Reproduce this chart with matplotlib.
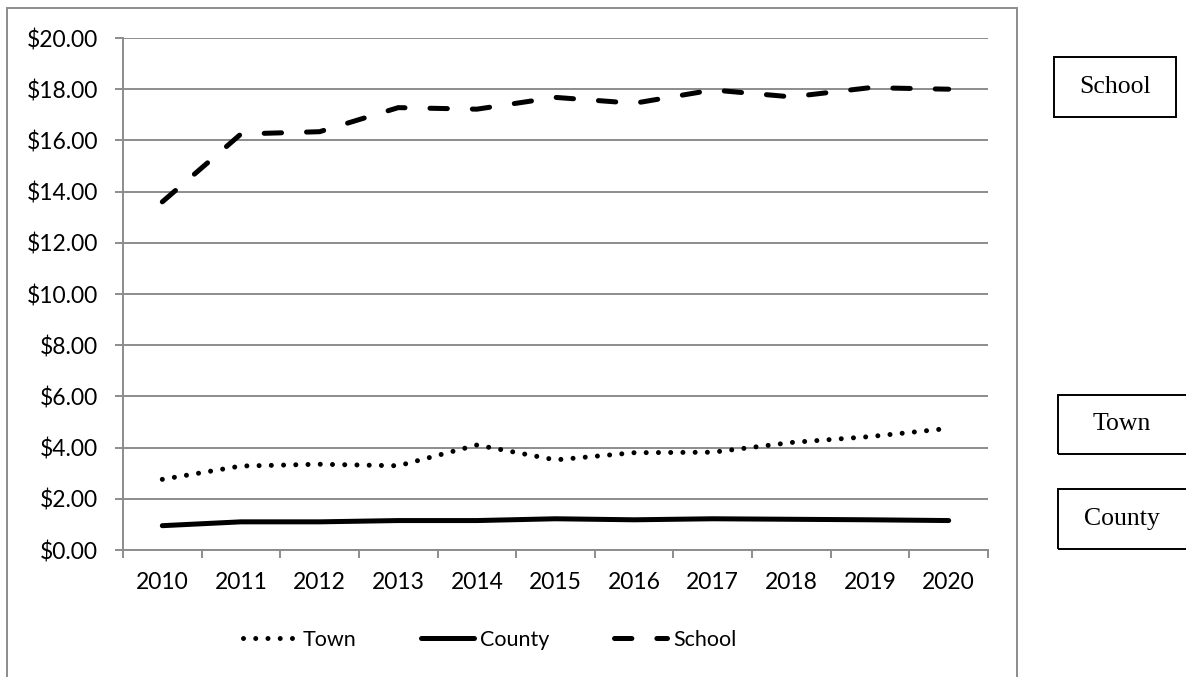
import matplotlib
matplotlib.use("Agg")
import matplotlib.pyplot as plt
from matplotlib.patches import Rectangle
from matplotlib.ticker import FixedLocator, FuncFormatter

years = ["2010", "2011", "2012", "2013", "2014", "2015", "2016", "2017", "2018", "2019", "2020"]
town = [2.76, 3.28, 3.35, 3.29, 4.10, 3.52, 3.80, 3.82, 4.20, 4.43, 4.75]
county = [0.95, 1.10, 1.10, 1.15, 1.15, 1.22, 1.18, 1.22, 1.20, 1.18, 1.15]
school = [13.60, 16.25, 16.34, 17.28, 17.22, 17.68, 17.45, 17.97, 17.70, 18.06, 18.00]
yticks = [0, 2, 4, 6, 8, 10, 12, 14, 16, 18, 20]
box_labels = ["School", "Town", "County"]

plt.rcParams['lines.scale_dashes'] = False
plt.rcParams['font.family'] = ['Lato', 'DejaVu Sans']

W, H = 1186, 677
fig = plt.figure(figsize=(W / 100, H / 100), dpi=100)

def fx(px):
    return px / W

def fy(py):
    return 1 - py / H

ax = fig.add_axes([fx(123), fy(550), fx(988) - fx(123), fy(38) - fy(550)])
x = list(range(len(years)))
grey = "#8c8c8c"
fs = 16.5

ax.plot(x, town, color="black", lw=3.6, linestyle=(0, (0.01, 8.8)),
        dash_capstyle="round", label="Town")
ax.plot(x, county, color="black", lw=3.6, solid_capstyle="round", label="County")
ax.plot(x, school, color="black", lw=3.6, linestyle=(0, (12.5, 18.0)),
        dash_capstyle="round", label="School")

ax.set_xlim(-0.5, len(years) - 0.5)
ax.set_ylim(0, 20)
ax.set_yticks(yticks)
ax.yaxis.set_major_formatter(FuncFormatter(lambda v, p: f"${v:.2f}"))
ax.grid(axis="y", color=grey, lw=1.4)
ax.set_axisbelow(True)
ax.set_xticks(x)
ax.set_xticklabels(years)
ax.xaxis.set_minor_locator(FixedLocator([i - 0.5 for i in range(len(years) + 1)]))
ax.tick_params(axis="x", which="major", length=0, pad=16, labelsize=fs, colors="black")
ax.tick_params(axis="x", which="minor", length=6, width=1.4, color=grey, direction="out")
ax.tick_params(axis="y", length=6, width=1.4, color=grey, pad=12, labelsize=fs)
for s in ["top", "right"]:
    ax.spines[s].set_visible(False)
ax.spines["left"].set_color(grey)
ax.spines["left"].set_linewidth(1.4)
ax.spines["bottom"].set_color(grey)
ax.spines["bottom"].set_linewidth(1.4)

leg = fig.legend(loc="center", bbox_to_anchor=(fx(490), fy(640)), ncol=3, frameon=False,
                 handlelength=2.45, handletextpad=0.3, columnspacing=3.0, fontsize=15.5)

# outer chart border
fig.add_artist(Rectangle((fx(7), -0.02), fx(1017) - fx(7), fy(8) + 0.02,
                         transform=fig.transFigure, fill=False, edgecolor=grey, lw=1.4))

boxes = [(1054, 57, 1176, 117), (1058, 395, 1190, 454), (1058, 489, 1190, 549)]
for (x0, y0, x1, y1), lab in zip(boxes, box_labels):
    fig.add_artist(Rectangle((fx(x0), fy(y1)), fx(x1) - fx(x0), fy(y0) - fy(y1),
                             transform=fig.transFigure, fill=False, edgecolor="black", lw=1.4))
    cx = (x0 + x1) / 2 if lab == "School" else 1122
    fig.text(fx(cx), fy((y0 + y1) / 2), lab, ha="center", va="center",
             family=["Liberation Serif"], fontsize=18.5)

fig.savefig("out.png", dpi=100)
